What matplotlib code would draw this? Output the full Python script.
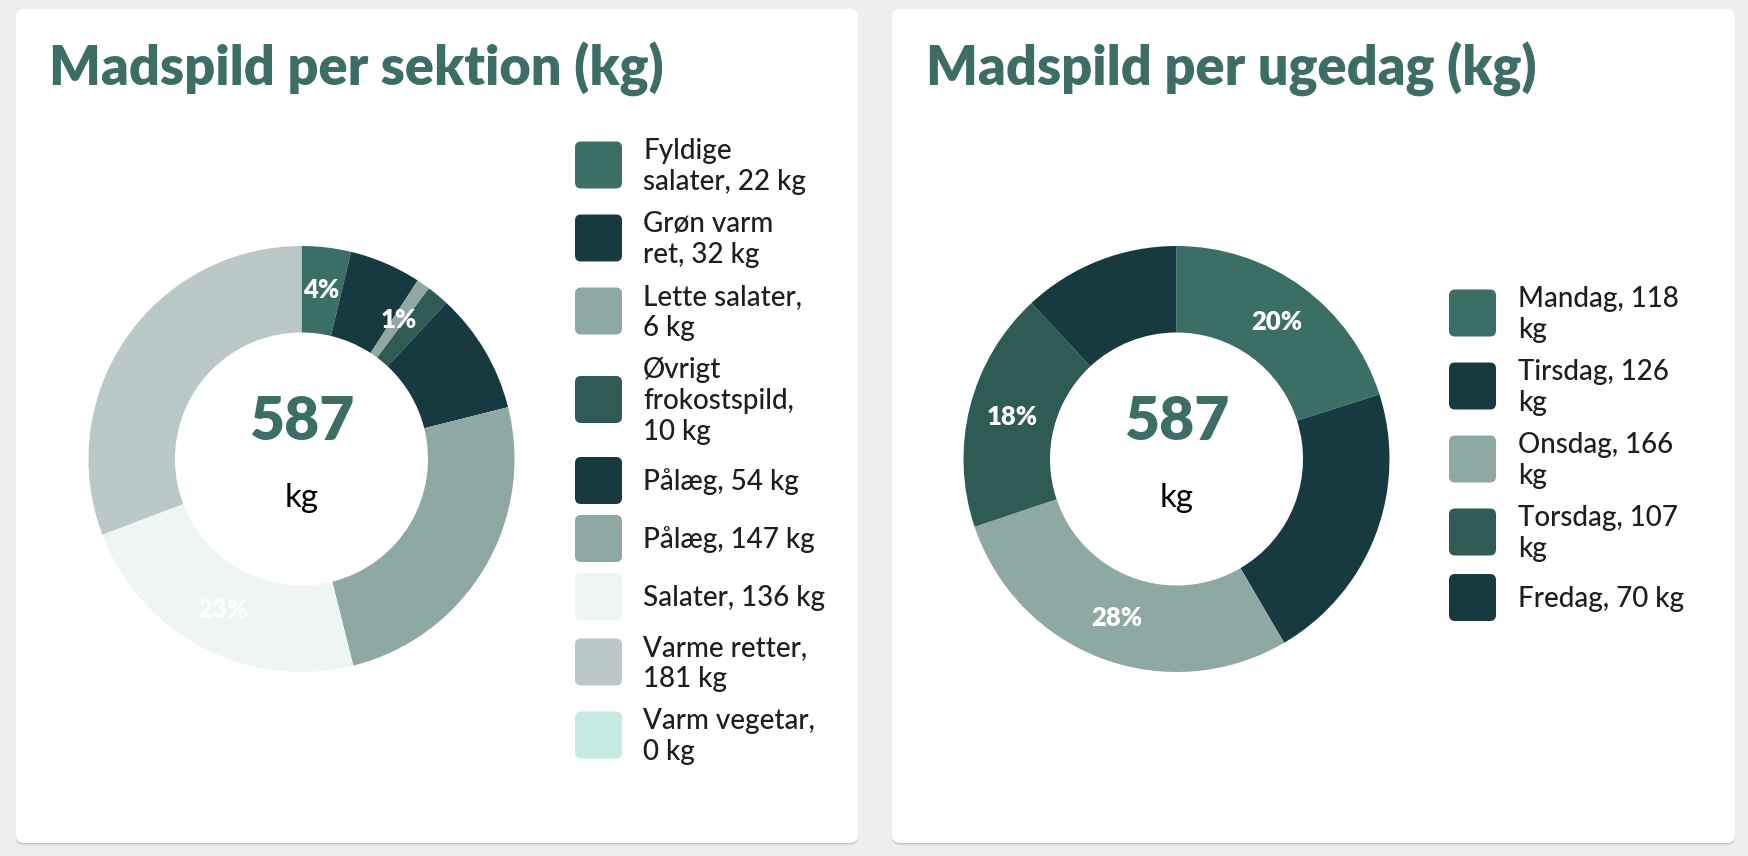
import numpy as np
import matplotlib
matplotlib.use("Agg")
import matplotlib.pyplot as plt
from matplotlib.patches import FancyBboxPatch

# ---------------- data ----------------
sektion_names = ["Fyldige salater", "Grøn varm ret", "Lette salater", "Øvrigt frokostspild",
                 "Pålæg", "Pålæg", "Salater", "Varme retter", "Varm vegetar"]
sektion_kg = [22, 32, 6, 10, 54, 147, 136, 181, 0]
sektion_legend = ["Fyldige\nsalater, 22 kg", "Grøn varm\nret, 32 kg", "Lette salater,\n6 kg",
                  "Øvrigt\nfrokostspild,\n10 kg", "Pålæg, 54 kg", "Pålæg, 147 kg",
                  "Salater, 136 kg", "Varme retter,\n181 kg", "Varm vegetar,\n0 kg"]
sektion_colors = ["#3B6F66", "#173A40", "#8EA9A3", "#2F5B55", "#173A40",
                  "#8EA9A3", "#EFF5F3", "#BAC8C7", "#C4EAE3"]
sektion_pct_shown = [True, False, True, False, False, False, True, False, False]

ugedag_names = ["Mandag", "Tirsdag", "Onsdag", "Torsdag", "Fredag"]
ugedag_kg = [118, 126, 166, 107, 70]
ugedag_legend = ["Mandag, 118\nkg", "Tirsdag, 126\nkg", "Onsdag, 166\nkg",
                 "Torsdag, 107\nkg", "Fredag, 70 kg"]
ugedag_colors = ["#3B6F66", "#173A40", "#8EA9A3", "#2F5B55", "#173A40"]
ugedag_pct_shown = [True, False, True, True, False]

total_kg = 587
titles = ["Madspild per sektion (kg)", "Madspild per ugedag (kg)"]
unit_label = "kg"

# ---------------- layout ----------------
W, H = 1748, 856
TITLE_COLOR = "#3D6E65"
TEXT_COLOR = "#1E1E1E"
FONT = ["Lato", "DejaVu Sans"]
plt.rcParams['font.family'] = FONT

fig = plt.figure(figsize=(W / 100, H / 100), dpi=100)
fig.patch.set_facecolor("#EEEEEE")
bg = fig.add_axes([0, 0, 1, 1])
bg.set_xlim(0, W)
bg.set_ylim(H, 0)
bg.axis("off")

renderer = fig.canvas.get_renderer()


def fit_size(text, target_px, **kw):
    t = fig.text(0, 0, text, fontsize=20, **kw)
    w = t.get_window_extent(renderer).width
    t.remove()
    return 20 * target_px / w


def card(x0, y0, x1, y1):
    for off, a in [(2.5, 0.10), (1.5, 0.18), (0.8, 0.25)]:
        bg.add_patch(FancyBboxPatch((x0, y0 + off), x1 - x0, y1 - y0,
                                    boxstyle="round,pad=0,rounding_size=8",
                                    fc="#888888", ec="none", alpha=a))
    bg.add_patch(FancyBboxPatch((x0, y0), x1 - x0, y1 - y0,
                                boxstyle="round,pad=0,rounding_size=8",
                                fc="white", ec="none"))


card(16, 9, 858, 843)
card(892, 9, 1735, 843)

TITLE_W = "heavy"
title_fs = fit_size(titles[0], 615, fontweight=TITLE_W)
legend_fs = fit_size("Salater, 136 kg", 182, fontweight="medium")
big_fs = fit_size(str(total_kg), 105, fontweight=TITLE_W)
pct_fs = fit_size("20%", 51, fontweight=TITLE_W)
kg_fs = fit_size(unit_label, 34)

bg.text(49, 86, titles[0], fontsize=title_fs, fontweight=TITLE_W, color=TITLE_COLOR, va="baseline")
bg.text(926, 86, titles[1], fontsize=title_fs, fontweight=TITLE_W, color=TITLE_COLOR, va="baseline")

R_OUT, R_IN = 213.0, 126.5


def donut(cx, cy, values, colors, shown):
    ax = fig.add_axes([(cx - R_OUT) / W, (H - cy - R_OUT) / H, 2 * R_OUT / W, 2 * R_OUT / H])
    wedges, _ = ax.pie(values, colors=colors, startangle=90, counterclock=False, radius=1,
                       wedgeprops=dict(width=1 - R_IN / R_OUT, linewidth=0))
    ax.set_xlim(-1, 1)
    ax.set_ylim(-1, 1)
    ax.set_aspect("equal")
    total = sum(values)
    rmid = (1 + R_IN / R_OUT) / 2
    for w, v, s in zip(wedges, values, shown):
        if s:
            ang = np.deg2rad((w.theta1 + w.theta2) / 2)
            ax.text(rmid * np.cos(ang), rmid * np.sin(ang), f"{v / total * 100:.0f}%",
                    ha="center", va="center", color="white", fontweight=TITLE_W, fontsize=pct_fs)
    ax.text(cx, 440, str(total_kg), transform=bg.transData, ha="center", va="baseline",
            fontsize=big_fs, fontweight=TITLE_W, color=TITLE_COLOR)
    ax.text(cx, 507, unit_label, transform=bg.transData, ha="center", va="baseline",
            fontsize=kg_fs, color="black")
    return ax


donut(301.5, 459, sektion_kg, sektion_colors, sektion_pct_shown)
donut(1176.5, 459, ugedag_kg, ugedag_colors, ugedag_pct_shown)

LINE_H = 31
SW = 47
cap_px = 0.72 * legend_fs * 100 / 72


def legend(x_sw, x_txt, top, labels, colors):
    y = top
    for lab, col in zip(labels, colors):
        lines = lab.split("\n")
        n = len(lines)
        h = max(SW, n * LINE_H) + 11
        cy = y + h / 2
        bg.add_patch(FancyBboxPatch((x_sw, cy - SW / 2), SW, SW,
                                    boxstyle="round,pad=0,rounding_size=6",
                                    fc=col, ec="none"))
        for i, ln in enumerate(lines):
            ly = cy + (i - (n - 1) / 2) * LINE_H
            bg.text(x_txt, ly + cap_px / 2, ln, fontsize=legend_fs, color=TEXT_COLOR,
                    va="baseline", ha="left", fontweight="medium")
        y += h


legend(575, 643, 128.5, sektion_legend, sektion_colors)
legend(1449, 1518, 276.5, ugedag_legend, ugedag_colors)

fig.savefig("out.png", dpi=100, facecolor=fig.get_facecolor())
